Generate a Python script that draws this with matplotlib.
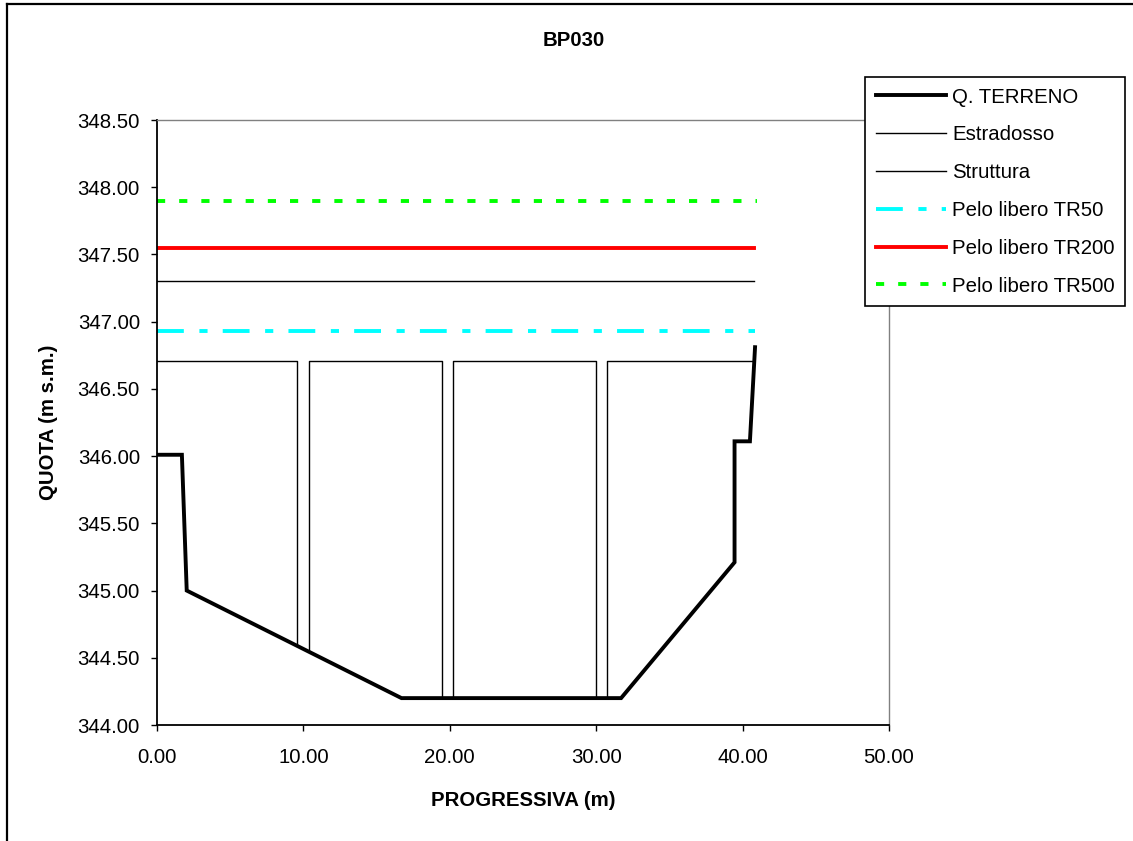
import matplotlib
matplotlib.use("Agg")
import matplotlib.pyplot as plt
from matplotlib.lines import Line2D
import numpy as np

plt.rcParams['font.family'] = ['Liberation Sans', 'DejaVu Sans']

title = "BP030"
x_label = "PROGRESSIVA (m)"
y_label = "QUOTA (m s.m.)"

# Q. TERRENO (ground profile)
terreno_x = [0.0, 1.70, 2.03, 16.70, 31.70, 39.45, 39.45, 40.50, 40.85]
terreno_y = [346.01, 346.01, 345.00, 344.20, 344.20, 345.21, 346.11, 346.11, 346.81]

# Estradosso (deck top)
estradosso_x = [0.0, 40.75]
estradosso_y = [347.30, 347.30]

# Struttura (deck underside + piers), NaN = gap between series segments
struttura_x = [0.0, 9.58, 9.58, np.nan, 10.38, 10.38, 19.45, 19.45, np.nan,
               20.24, 20.24, 29.97, 29.97, np.nan, 30.76, 30.76, 40.75]
struttura_y = [346.71, 346.71, 344.59, np.nan, 344.55, 346.71, 346.71, 344.20, np.nan,
               344.20, 346.71, 346.71, 344.20, np.nan, 344.20, 346.71, 346.71]

# water levels
tr50_x = [0.0, 40.85]
tr50_y = [346.93, 346.93]
tr200_x = [0.0, 40.80]
tr200_y = [347.55, 347.55]
tr500_x = [0.0, 41.0]
tr500_y = [347.90, 347.90]

x_ticks = [0, 10, 20, 30, 40, 50]
y_ticks = [344.0, 344.5, 345.0, 345.5, 346.0, 346.5, 347.0, 347.5, 348.0, 348.5]

fs = 14.7
lw_thick = 2.8

fig = plt.figure(figsize=(11.33, 8.41), dpi=100)
ax = fig.add_axes([157 / 1133, 1 - 725 / 841, (889 - 157) / 1133, (725 - 120) / 841])

l_terr, = ax.plot(terreno_x, terreno_y, color='black', linewidth=lw_thick, label='Q. TERRENO',
                  solid_joinstyle='miter')
l_estr, = ax.plot(estradosso_x, estradosso_y, color='black', linewidth=1.0, label='Estradosso')
l_strut, = ax.plot(struttura_x, struttura_y, color='black', linewidth=1.0, label='Struttura')
l_50, = ax.plot(tr50_x, tr50_y, color='#00FFFF', linewidth=lw_thick, label='Pelo libero TR50',
                dashes=(6.9, 4.0, 2.1, 3.9))
l_200, = ax.plot(tr200_x, tr200_y, color='#FF0000', linewidth=lw_thick, label='Pelo libero TR200')
l_500, = ax.plot(tr500_x, tr500_y, color='#00FF00', linewidth=lw_thick, label='Pelo libero TR500',
                 dashes=(2.1, 3.6))

ax.set_xlim(0, 50)
ax.set_ylim(344.0, 348.5)
ax.set_xticks(x_ticks)
ax.set_xticklabels([f"{v:.2f}" for v in x_ticks])
ax.set_yticks(y_ticks)
ax.set_yticklabels([f"{v:.2f}" for v in y_ticks])
ax.tick_params(axis='both', direction='out', length=4.3, width=1.0, labelsize=fs,
               colors='black')
ax.tick_params(axis='y', pad=8)
ax.tick_params(axis='x', pad=12)

for side in ['left', 'bottom']:
    ax.spines[side].set_color('black')
    ax.spines[side].set_linewidth(1.3)
for side in ['top', 'right']:
    ax.spines[side].set_color('#808080')
    ax.spines[side].set_linewidth(1.0)

fig.text(0.506, 1 - 41 / 841, title, ha='center', va='center', fontsize=fs, fontweight='bold')
fig.text(523 / 1133, 1 - 801 / 841, x_label, ha='center', va='center', fontsize=fs,
         fontweight='bold')
fig.text(48 / 1133, 1 - 422 / 841, y_label, ha='center', va='center', rotation=90,
         fontsize=fs, fontweight='bold')

leg = fig.legend(handles=[l_terr, l_estr, l_strut, l_50, l_200, l_500],
                 loc='upper left', bbox_to_anchor=(865 / 1133, 1 - 77 / 841),
                 bbox_transform=fig.transFigure, fontsize=fs, frameon=True,
                 fancybox=False, shadow=False, framealpha=1, edgecolor='black',
                 handlelength=3.45, handletextpad=0.3, labelspacing=0.92,
                 borderpad=0.52, borderaxespad=0)
leg.get_frame().set_linewidth(1.2)

# outer chart border (left and top edges visible)
fig.add_artist(Line2D([6.5 / 1133, 6.5 / 1133], [0, 1 - 3.5 / 841], color='black',
                      linewidth=1.6, transform=fig.transFigure))
fig.add_artist(Line2D([6.5 / 1133, 1], [1 - 3.5 / 841, 1 - 3.5 / 841], color='black',
                      linewidth=1.6, transform=fig.transFigure))

fig.savefig('out.png', dpi=100)
